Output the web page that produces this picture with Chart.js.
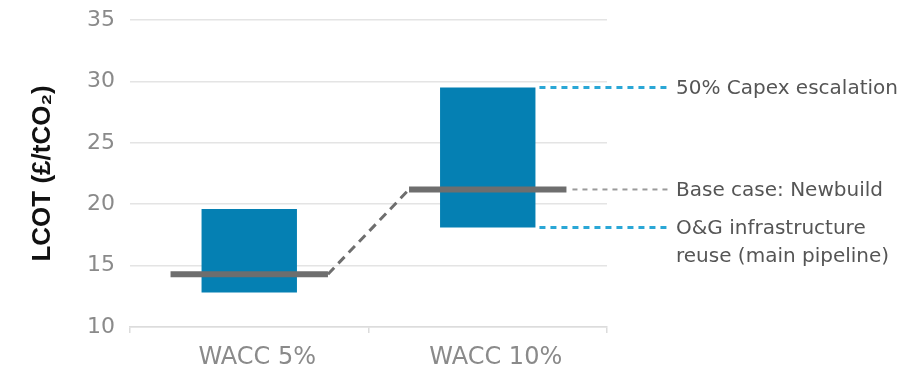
<!DOCTYPE html>
<html>
<head>
<meta charset="utf-8">
<script src="https://cdn.jsdelivr.net/npm/chart.js@4"></script>
<style>
  html, body { margin: 0; padding: 0; background: #fff; }
  #wrap { width: 912px; height: 369px; }
</style>
</head>
<body>
<div id="wrap"><canvas id="lcotChart"></canvas></div>
<script>
// LCOT ranges per financing case
const categories = ['WACC 5%', 'WACC 10%'];
const reuseCase = [12.8, 18.1];   // O&G infrastructure reuse (low end)
const capexCase = [19.6, 29.5];   // 50% capex escalation (high end)
const baseCase = [14.3, 21.2];    // newbuild base case
const yMin = 10, yMax = 35, yStep = 5;

const noteLabels = [
  ['50% Capex escalation'],
  ['Base case: Newbuild'],
  ['O&G infrastructure', 'reuse (main pipeline)']
];
const noteValues = [capexCase[1], baseCase[1], reuseCase[1]];

const FONT = '"DejaVu Sans", sans-serif';
const BLUE = '#0580b3';
const GREY_LINE = '#6e6e6e';

// base-case bars, connector and right-hand notes
const baseCasePlugin = {
  id: 'baseCase',
  afterDatasetsDraw(chart) {
    const { ctx, scales: { x, y } } = chart;
    const catW = x.getPixelForValue(1) - x.getPixelForValue(0);
    const half = catW * 0.33;
    const xs = categories.map((c, i) => x.getPixelForValue(i));
    const ys = baseCase.map(v => y.getPixelForValue(v));

    ctx.save();
    // dashed connector between the two base cases
    ctx.strokeStyle = GREY_LINE;
    ctx.lineWidth = 3;
    ctx.setLineDash([9, 6]);
    ctx.beginPath();
    ctx.moveTo(xs[0] + half, ys[0]);
    ctx.lineTo(xs[1] - half, ys[1]);
    ctx.stroke();

    // solid base-case lines
    ctx.setLineDash([]);
    ctx.lineWidth = 6;
    xs.forEach((cx, i) => {
      ctx.beginPath();
      ctx.moveTo(cx - half, ys[i]);
      ctx.lineTo(cx + half, ys[i]);
      ctx.stroke();
    });

    // leaders and notes for the WACC 10% case
    const bar = chart.getDatasetMeta(0).data[1];
    const barRight = bar.x + bar.width / 2;
    const noteX = 676;
    const starts = [barRight + 4, xs[1] + half + 6, barRight + 4];
    const colors = ['#2aa7d6', '#9a9a9a', '#2aa7d6'];
    noteValues.forEach((v, i) => {
      const py = y.getPixelForValue(v);
      ctx.strokeStyle = colors[i];
      ctx.lineWidth = i === 1 ? 2 : 3;
      ctx.setLineDash(i === 1 ? [5, 5] : [6, 5]);
      ctx.beginPath();
      ctx.moveTo(starts[i], py);
      ctx.lineTo(noteX - 8, py);
      ctx.stroke();

      ctx.setLineDash([]);
      ctx.fillStyle = '#555';
      ctx.font = '20px ' + FONT;
      ctx.textAlign = 'left';
      ctx.textBaseline = 'middle';
      noteLabels[i].forEach((line, j) => {
        ctx.fillText(line, noteX, py + 1 + j * 28);
      });
    });
    ctx.restore();
  }
};

new Chart(document.getElementById('lcotChart'), {
  type: 'bar',
  data: {
    labels: categories,
    datasets: [{
      data: categories.map((c, i) => [reuseCase[i], capexCase[i]]),
      backgroundColor: BLUE,
      borderSkipped: false,
      barPercentage: 0.4,
      categoryPercentage: 1
    }]
  },
  options: {
    responsive: true,
    maintainAspectRatio: false,
    animation: false,
    layout: { padding: { top: 20, right: 305, bottom: 0, left: 0 } },
    plugins: {
      legend: { display: false },
      tooltip: { enabled: false }
    },
    scales: {
      x: {
        grid: {
          offset: true,
          drawOnChartArea: false,
          drawTicks: true,
          tickLength: 6,
          color: '#dcdcdc',
          lineWidth: 1.5
        },
        border: { color: '#dcdcdc', width: 1.5 },
        ticks: {
          color: '#8a8a8a',
          font: { family: FONT, size: 24 },
          padding: 10,
          labelOffset: 8
        },
        afterFit(scale) { scale.height = 42; }
      },
      y: {
        min: yMin,
        max: yMax,
        ticks: {
          stepSize: yStep,
          color: '#8a8a8a',
          font: { family: FONT, size: 22 },
          padding: 15
        },
        grid: { color: '#e4e4e4', lineWidth: 1.5, drawTicks: false },
        border: { display: false },
        title: {
          display: true,
          text: 'LCOT (£/tCO₂)',
          color: '#111',
          font: { family: '"Liberation Sans", Arial, sans-serif', size: 26, weight: 'bold' },
          padding: { top: 27, bottom: 0 }
        },
        afterFit(scale) {
          scale.width = 130;
          scale.paddingTop = 0;
          scale.paddingBottom = 0;
        }
      }
    }
  },
  plugins: [baseCasePlugin]
});
</script>
</body>
</html>
